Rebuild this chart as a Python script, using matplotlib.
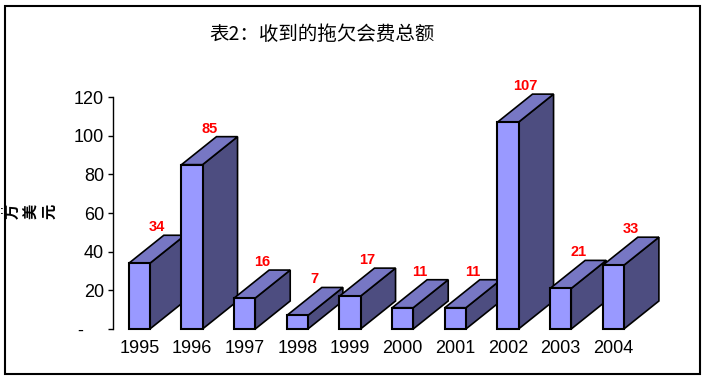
import matplotlib
matplotlib.use('Agg')
import matplotlib.pyplot as plt
from matplotlib.patches import Polygon, Rectangle

plt.rcParams['font.family'] = ['Liberation Sans', 'Noto Sans CJK SC']

years = ['1995', '1996', '1997', '1998', '1999', '2000', '2001', '2002', '2003', '2004']
values = [34, 85, 16, 7, 17, 11, 11, 107, 21, 33]
yticks = [0, 20, 40, 60, 80, 100, 120]
yticklabels = ['-    ', '20', '40', '60', '80', '100', '120']
unit_chars = ['万', '美', '元']

W, H = 709, 389
fig = plt.figure(figsize=(W / 100, H / 100), dpi=100)

# axes placed in pixel terms: x unit = 52.67 px, y 0..120 -> 329..97 px
xmin, xmax = -0.5, 10.0
ax = fig.add_axes([113 / W, (H - 329) / H, (xmax - xmin) * 52.67 / W, 232 / H])
ax.set_xlim(xmin, xmax)
ax.set_ylim(0, 120)

bw = 0.2          # half width of the front face
dx = 35 / 52.67   # depth offset in x units
dy = 28 / 1.933   # depth offset in value units

front_c = '#9999FF'
side_c = '#4D4D80'
top_c = '#7777C4'

for i, v in enumerate(values):
    z = 3 + i * 3
    side = Polygon([(i + bw, 0), (i + bw + dx, dy), (i + bw + dx, v + dy), (i + bw, v)],
                   closed=True, fc=side_c, ec='black', lw=1.2, zorder=z, clip_on=False)
    top = Polygon([(i - bw, v), (i + bw, v), (i + bw + dx, v + dy), (i - bw + dx, v + dy)],
                  closed=True, fc=top_c, ec='black', lw=1.2, zorder=z, clip_on=False)
    front = Rectangle((i - bw, 0), 2 * bw, v, fc=front_c, ec='black', lw=1.5,
                      zorder=z + 1, clip_on=False)
    ax.add_patch(side)
    ax.add_patch(top)
    ax.add_patch(front)
    ax.text(i + dx / 2, v + dy + 0.5, str(v), color='red', fontsize=10.5,
            fontweight='bold', ha='center', va='bottom', zorder=50, clip_on=False)

for s in ['top', 'right', 'bottom']:
    ax.spines[s].set_visible(False)
ax.spines['left'].set_linewidth(1.0)

ax.set_yticks(yticks, labels=yticklabels)
ax.tick_params(axis='y', length=3.5, width=1, labelsize=13, pad=3)
ax.set_xticks(range(len(years)), labels=years)
ax.tick_params(axis='x', length=0, labelsize=13, pad=8)

fig.text(322 / W, 1 - 35 / H, '表2：收到的拖欠会费总额', fontsize=14,
         family=['Noto Sans CJK SC'], ha='center', va='center')

# unit label: stacked characters, turned a quarter to the left
for k, ch in enumerate(unit_chars):
    fig.text((13 + 18 * k) / W, 1 - 211 / H, ch, rotation=90, fontsize=11,
             family=['Noto Sans CJK SC'], fontweight='bold', ha='center', va='center')
fig.text(0 / W, 1 - 211 / H, ':', fontsize=8, fontweight='bold', ha='left', va='center')

fig.patches.append(Rectangle((5 / W, 1 - 374 / H), 695 / W, 368 / H, fill=False,
                             ec='black', lw=1.5, transform=fig.transFigure, figure=fig))

fig.savefig('out.png', dpi=100, facecolor='white')
